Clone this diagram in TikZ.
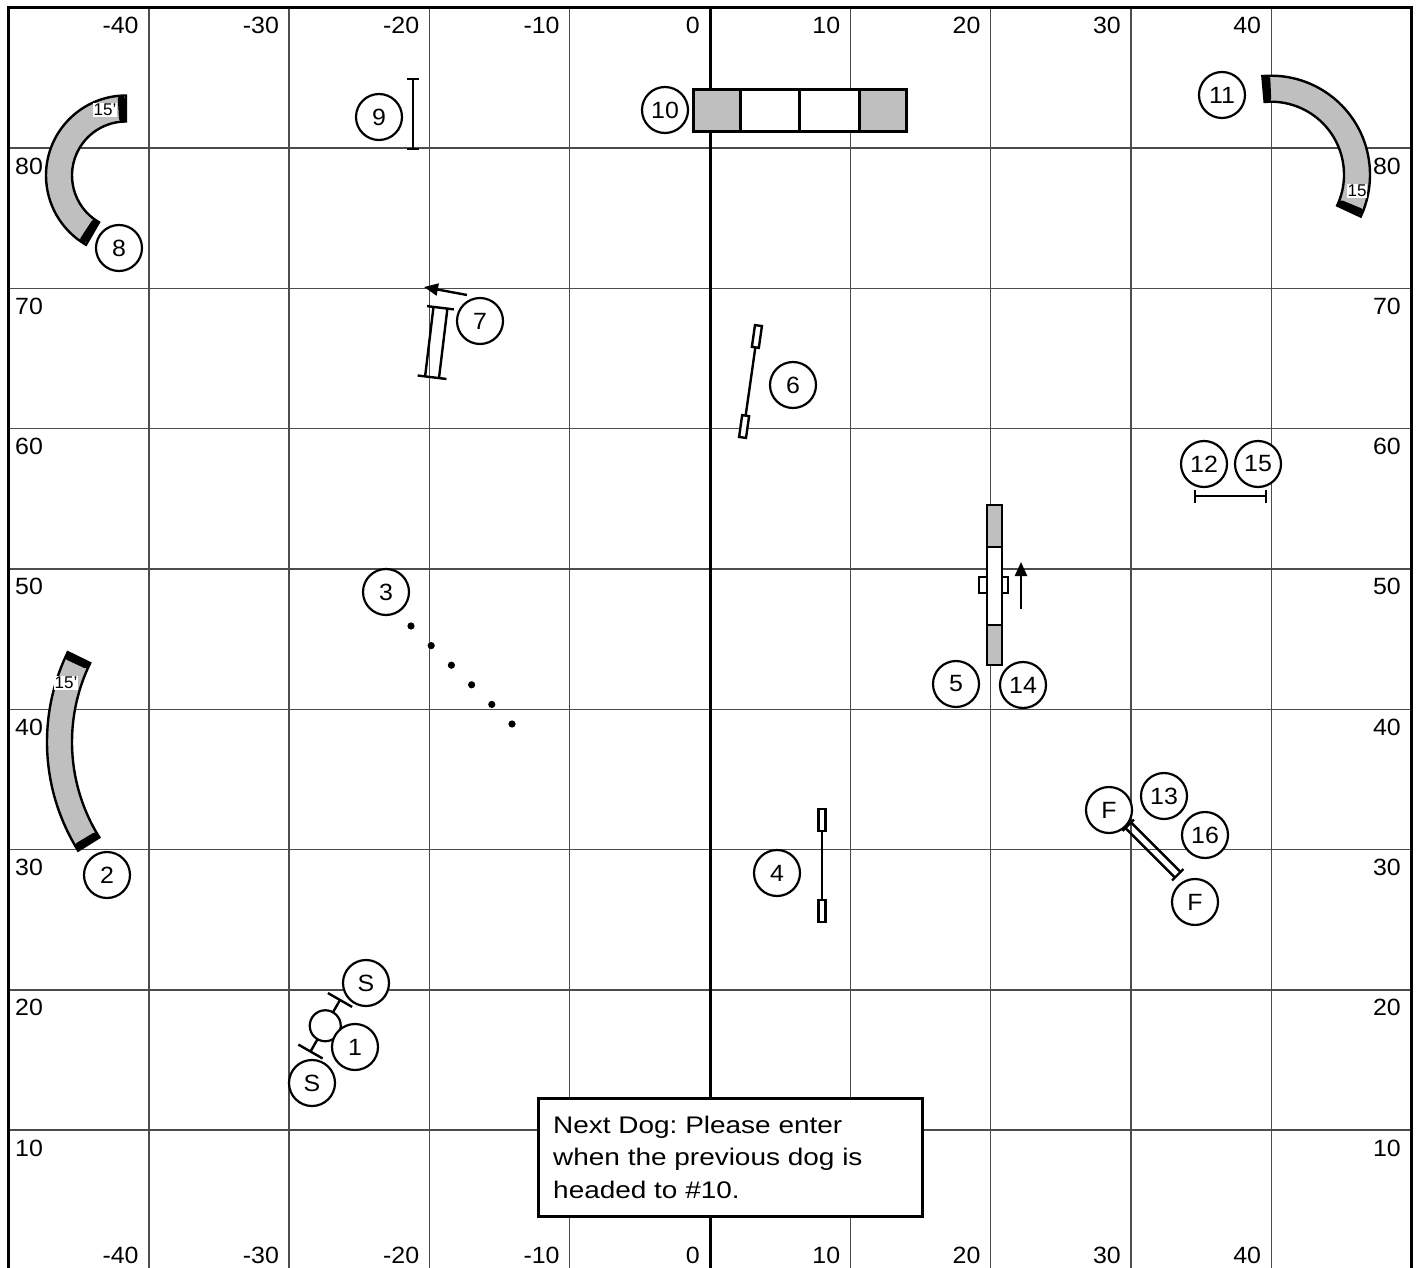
\documentclass[tikz,border=0pt]{standalone}
\usepackage{fontspec}
\setmainfont{Liberation Sans}
\newfontfamily\boxfont{Liberation Sans}[FakeStretch=1.165]
\newfontfamily\numfam{Liberation Sans}[FakeStretch=1.06]
\usetikzlibrary{arrows.meta}
\frenchspacing
\newcommand\numfont{\numfam\fontsize{23.5}{23.5}\selectfont}
\newcommand\axfont{\numfam\fontsize{23.5}{23.5}\selectfont}
\newcommand\tunnelpath[6]{%
  \filldraw[tube] ([shift={(#5:#4)}]#1,#2) arc[start angle=#5,end angle=#6,radius=#4]
    -- ([shift={(#6:#3)}]#1,#2) arc[start angle=#6,end angle=#5,radius=#3] -- cycle;}
\begin{document}
\begin{tikzpicture}[x=1pt,y=1pt,
  gridline/.style={line width=1.4pt, draw=black!70},
  axl/.style={inner sep=0pt, font=\axfont},
  num/.style={circle, draw, line width=2.2pt, fill=white, minimum size=46pt, inner sep=0pt, font=\numfont},
  obst/.style={line width=2.4pt, draw=black},
  tube/.style={line width=2.4pt, draw=black, fill=gray!50},
  capline/.style={line width=7pt, draw=black, line cap=round},
  tlab/.style={fill=white, inner sep=1pt, font=\fontsize{17}{17}\selectfont},
  arr/.style={line width=2.4pt, -{Triangle[length=14pt,width=12pt]}},
  notetext/.style={inner sep=0pt, anchor=base west, font=\boxfont\fontsize{24}{24}\selectfont\frenchspacing}
]
\useasboundingbox (0,0) rectangle (1422,-1268);
\fill[white] (0,0) rectangle (1422,-1268);

% grid
\foreach \k in {-4,...,-1,1,2,3,4}{
  \draw[gridline] ({710+140.3*\k},-7.7) -- ({710+140.3*\k},-1268);
}
\foreach \j in {1,...,8}{
  \draw[gridline] (8.5,{-1270.4+140.3*\j}) -- (1411.5,{-1270.4+140.3*\j});
}
\draw[line width=3pt] (710,-7.7) -- (710,-1268);
\draw[line width=2.5pt] (8.5,-1268) -- (8.5,-7.7) -- (1411.5,-7.7) -- (1411.5,-1268);

% tunnel 8 (top left)
\tunnelpath{126}{-175.5}{54}{80}{90}{240}
\draw[capline] ([shift={(93.5:57)}]126,-175.5) -- ([shift={(93.5:77)}]126,-175.5);
\draw[capline] ([shift={(236.5:57)}]126,-175.5) -- ([shift={(236.5:77)}]126,-175.5);
\node[tlab] (t8lab) at (105,-110) {15'};

% tunnel 11 (top right)
\tunnelpath{1271}{-174.7}{73}{99}{95}{-25}
\draw[capline] ([shift={(92.5:76)}]1271,-174.7) -- ([shift={(92.5:96)}]1271,-174.7);
\draw[capline] ([shift={(-22.5:76)}]1271,-174.7) -- ([shift={(-22.5:96)}]1271,-174.7);
\node[tlab] (t11lab) at (1357,-191) {15};

% tunnel 2 (left)
\tunnelpath{252}{-742}{180}{205}{154}{212}
\draw[capline] ([shift={(155.1:183)}]252,-742) -- ([shift={(155.1:202)}]252,-742);
\draw[capline] ([shift={(210.9:183)}]252,-742) -- ([shift={(210.9:202)}]252,-742);
\node[tlab] (t2lab) at (66,-683) {15'};

% jump 9
\draw[obst] (413,-79) -- (413,-149);
\draw[obst] (407,-79) -- (419,-79);
\draw[obst] (407,-149) -- (419,-149);

% dog walk 10
\filldraw[line width=3pt, fill=gray!50] (693,-90) rectangle (740,-132);
\filldraw[line width=3pt, fill=white] (740,-90) rectangle (799,-132);
\filldraw[line width=3pt, fill=white] (799,-90) rectangle (859,-132);
\filldraw[line width=3pt, fill=gray!50] (859,-90) rectangle (906,-132);

% obstacle 7 (double bar)
\begin{scope}[shift={(436.25,-342.5)}, rotate=-6.9]
  \draw[obst] (-7,-35) -- (-7,35);
  \draw[obst] (7,-35) -- (7,35);
  \draw[obst] (-13.5,35) -- (13.5,35);
  \draw[obst] (-14.5,-35) -- (14.5,-35);
\end{scope}
\coordinate (a7s) at (467,-295);
\coordinate (a7e) at (424,-287);
\draw[arr] (a7s) -- (a7e);

% jump 6
\begin{scope}[shift={(750.5,-381.5)}, rotate=-8.1]
  \draw[obst] (0,-34.5) -- (0,34.5);
  \draw[obst, fill=white] (-3.5,34.5) rectangle (3.5,56.5);
  \draw[obst, fill=white] (-3.5,-56.5) rectangle (3.5,-34.5);
\end{scope}

% table bar 12/15
\draw[obst] (1195,-496) -- (1266,-496);
\draw[obst] (1195,-490) -- (1195,-503);
\draw[obst] (1266,-490) -- (1266,-503);

% weaves 3
\foreach \i in {0,...,5}{
  \fill ({411+20.2*\i},{-626-19.6*\i}) circle (3.6);
}

% A-frame 5/14
\filldraw[line width=2.2pt, fill=white] (979,-577) rectangle (1008,-593);
\filldraw[line width=2.6pt, fill=gray!50] (987,-505) rectangle (1002,-547);
\filldraw[line width=2.6pt, fill=white] (987,-547) rectangle (1002,-625);
\filldraw[line width=2.6pt, fill=gray!50] (987,-625) rectangle (1002,-665);
\coordinate (afs) at (1021,-609);
\coordinate (afe) at (1021,-562);
\draw[arr] (afs) -- (afe);

% jump 4
\draw[obst] (822,-831) -- (822,-900);
\draw[obst, fill=white] (818.5,-809) rectangle (825.5,-831);
\draw[obst, fill=white] (818.5,-900) rectangle (825.5,-922);

% finish line
\begin{scope}[shift={(1153,-850)}, rotate=-45]
  \draw[obst] (-35,-4) -- (35,-4);
  \draw[obst] (-35,4) -- (35,4);
  \draw[obst] (-35,-8) -- (-35,8);
  \draw[obst] (35,-8) -- (35,8);
\end{scope}

% start line
\begin{scope}[shift={(325.25,-1025.75)}, rotate=-29.8]
  \draw[obst] (0,-29.7) -- (0,29.7);
  \draw[obst] (-14,29.7) -- (14,29.7);
  \draw[obst] (-14,-29.7) -- (14,-29.7);
  \node[circle, draw, line width=2.2pt, fill=white, minimum size=31pt, inner sep=0pt] (startmid) at (0,0) {};
\end{scope}

% numbered circles
\node[num] (n1) at (355,-1047) {1};
\node[num] (s1) at (366,-983) {S};
\node[num] (s2) at (312,-1083) {S};
\node[num] (n2) at (107,-875) {2};
\node[num] (n3) at (386,-592) {3};
\node[num] (n4) at (777,-873) {4};
\node[num] (n5) at (956,-684) {5};
\node[num] (n14) at (1023,-685) {14};
\node[num] (n6) at (793,-385) {6};
\node[num] (n7) at (480,-321) {7};
\node[num] (n8) at (119,-248) {8};
\node[num] (n9) at (379,-117) {9};
\node[num] (n10) at (665,-110) {10};
\node[num] (n11) at (1222,-95) {11};
\node[num] (n12) at (1204,-464) {12};
\node[num] (n15) at (1258,-464) {15};
\node[num] (n13) at (1164,-796) {13};
\node[num] (n16) at (1205,-835) {16};
\node[num] (f1) at (1109,-810) {F};
\node[num] (f2) at (1195,-902) {F};

% note box
\node[draw, line width=2.5pt, fill=white, minimum width=384pt, minimum height=118pt, anchor=north west, inner sep=0pt] (note) at (537,-1097) {};
\node[notetext] (note1) at (553,-1133) {Next Dog: Please enter};
\node[notetext] (note2) at (553,-1165.5) {when the previous dog is};
\node[notetext] (note3) at (553,-1198) {headed to \#10.};

% axis labels
\foreach \k [count=\i] in {-4,...,4}{
  \pgfmathtruncatemacro\lab{10*\k}
  \node[axl, anchor=east] (top\i) at ({700+140.3*\k},-25) {\lab};
  \node[axl, anchor=east] (bot\i) at ({700+140.3*\k},-1255) {\lab};
}
\foreach \j in {1,...,8}{
  \pgfmathtruncatemacro\lab{10*\j}
  \node[axl, anchor=west] (left\j) at (15,{-1270.4+140.3*\j-18}) {\lab};
  \node[axl, anchor=east] (right\j) at (1401,{-1270.4+140.3*\j-18}) {\lab};
}
\end{tikzpicture}
\end{document}
